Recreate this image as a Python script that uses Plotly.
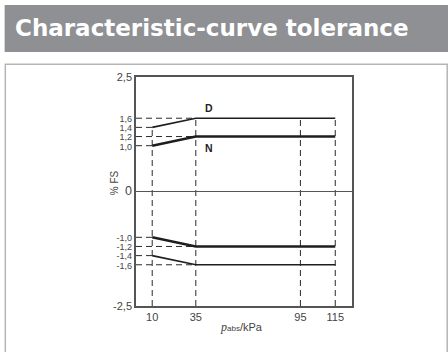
import numpy as np
import plotly.graph_objects as go

# ---- data ----
pressure_kpa = [10, 35, 115]
upper_d = [1.4, 1.6, 1.6]
upper_n = [1.0, 1.2, 1.2]
lower_n = [-1.0, -1.2, -1.2]
lower_d = [-1.4, -1.6, -1.6]
x_tick_values = [10, 35, 95, 115]
y_tick_values = [2.5, 1.6, 1.4, 1.2, 1.0, 0, -1.0, -1.2, -1.4, -1.6, -2.5]
curve_labels = ["D", "N"]
title_text = "Characteristic-curve tolerance"

# ---- layout geometry ----
W, H = 448, 352
L, R, T, B = 135.5, 351.7, 77, 305.7
X_MIN, X_MAX = 0.7, 124.6
Y_MIN, Y_MAX = -2.5, 2.5
INK = "#1e1e1e"
GUIDE = "#2a2a2a"


def px2paper_x(px):
    return (px - L) / (R - L)


def px2paper_y(py):
    return (B - py) / (B - T)


fig = go.Figure()

# horizontal dashed guides from the axis to each break point
for series in (upper_d, upper_n, lower_n, lower_d):
    for xv, yv in zip(pressure_kpa[:2], series[:2]):
        fig.add_trace(go.Scatter(x=[X_MIN, xv], y=[yv, yv], mode="lines",
                                 line=dict(color=GUIDE, width=1, dash="6px,4px"),
                                 hoverinfo="skip", showlegend=False))

# vertical dashed guides up to the upper D curve
for xv in x_tick_values:
    top = float(np.interp(xv, pressure_kpa, upper_d))
    fig.add_trace(go.Scatter(x=[xv, xv], y=[Y_MIN, top], mode="lines",
                             line=dict(color=GUIDE, width=1, dash="6px,4px"),
                             hoverinfo="skip", showlegend=False))

# zero line
fig.add_trace(go.Scatter(x=[X_MIN, X_MAX], y=[0, 0], mode="lines",
                         line=dict(color="#555555", width=1.2),
                         hoverinfo="skip", showlegend=False))

# tolerance curves
for series, w in ((upper_d, 1.6), (lower_d, 1.6), (upper_n, 2.6), (lower_n, 2.6)):
    fig.add_trace(go.Scatter(x=pressure_kpa, y=series, mode="lines",
                             line=dict(color=INK, width=w),
                             hoverinfo="skip", showlegend=False))


def fmt(v):
    if v == 0:
        return "<span style='font-size:12.5px'>0</span>"
    s = f"{v:.1f}".replace(".", ",")
    if abs(v) == 2.5:
        return s
    return f"<span style='font-size:9px'>{s}</span>"


annotations = [
    dict(x=pressure_kpa[1], y=upper_d[1], text=f"<b>{curve_labels[0]}</b>",
         xanchor="left", yanchor="bottom", xshift=7, yshift=2, showarrow=False,
         font=dict(size=10.5, color=INK, family="Liberation Sans")),
    dict(x=pressure_kpa[1], y=upper_n[1], text=f"<b>{curve_labels[1]}</b>",
         xanchor="left", yanchor="top", xshift=7, yshift=-3, showarrow=False,
         font=dict(size=10.5, color=INK, family="Liberation Sans")),
    dict(x=px2paper_x(106), y=px2paper_y(183), xref="paper", yref="paper",
         text="% FS", textangle=-90, showarrow=False,
         font=dict(size=10, color="#444", family="Liberation Sans")),
    dict(x=px2paper_x(241), y=px2paper_y(336), xref="paper", yref="paper",
         text="<span style='font-family:Liberation Serif;font-style:italic;font-size:12px'>p</span>"
              "<span style='font-size:8px'>abs</span>/kPa",
         showarrow=False, font=dict(size=11, color="#444", family="Liberation Sans")),
    dict(x=px2paper_x(12), y=px2paper_y(28.5), xref="paper", yref="paper",
         xanchor="left", yanchor="middle", text=f"<b>{title_text}</b>",
         showarrow=False, font=dict(size=23, color="white", family="DejaVu Sans")),
]

shapes = [
    dict(type="rect", xref="paper", yref="paper",
         x0=px2paper_x(4), x1=px2paper_x(449), y0=px2paper_y(52), y1=px2paper_y(5),
         fillcolor="#8f9094", line=dict(width=0), layer="below"),
    dict(type="rect", xref="paper", yref="paper",
         x0=px2paper_x(4.7), x1=px2paper_x(447), y0=px2paper_y(370), y1=px2paper_y(64.3),
         fillcolor="rgba(0,0,0,0)", line=dict(color="#b5b5b5", width=1.5), layer="below"),
]

fig.update_layout(
    width=W, height=H,
    margin=dict(l=L, r=W - R, t=T, b=H - B, pad=0),
    paper_bgcolor="white", plot_bgcolor="white",
    showlegend=False,
    shapes=shapes, annotations=annotations,
    xaxis=dict(range=[X_MIN, X_MAX], tickvals=x_tick_values,
               ticktext=[str(v) for v in x_tick_values],
               showgrid=False, zeroline=False, showline=True, mirror=True,
               linecolor="#555", linewidth=1.5, ticks="", ticklen=0,
               tickfont=dict(size=11, color="#444", family="Liberation Sans"),
               fixedrange=True),
    yaxis=dict(range=[Y_MIN, Y_MAX], tickvals=y_tick_values,
               ticktext=[fmt(v) for v in y_tick_values],
               showgrid=False, zeroline=False, showline=True, mirror=True,
               linecolor="#555", linewidth=1.5, ticks="", ticklen=0,
               tickfont=dict(size=11, color="#444", family="Liberation Sans"),
               fixedrange=True),
)

fig.write_html(
    "out.html",
    config={"displayModeBar": False},
    post_script="document.body.style.margin='0';document.body.style.overflow='hidden';",
)
